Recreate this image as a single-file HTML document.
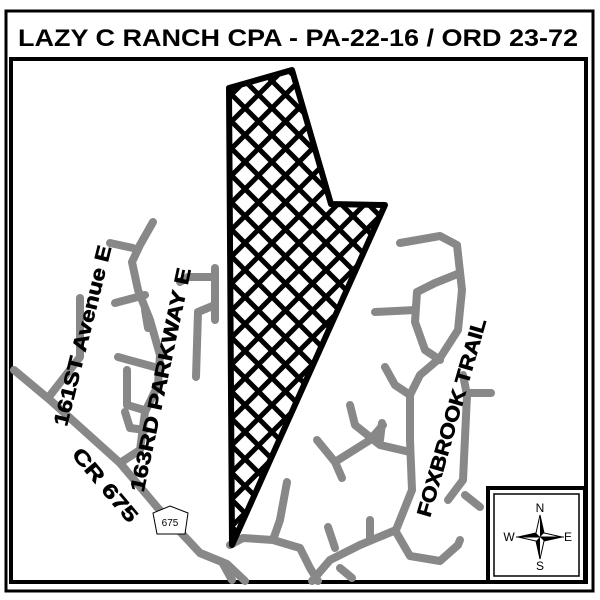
<!DOCTYPE html>
<html><head><style>
html,body{margin:0;padding:0;background:#fff;}
svg{display:block;font-family:"Liberation Sans",Arial,sans-serif;}
</style></head><body>
<svg width="600" height="600" viewBox="0 0 600 600" xmlns="http://www.w3.org/2000/svg">
<defs>
<pattern id="h" patternUnits="userSpaceOnUse" width="27" height="27" x="2" y="0">
<path d="M-3,3 L3,-3 M0,27 L27,0 M24,30 L30,24 M-3,24 L3,30 M0,0 L27,27 M24,-3 L30,3" stroke="#000" stroke-width="5"/>
</pattern>
</defs>
<rect width="600" height="600" fill="#fff"/>
<rect x="6" y="11" width="587" height="580" fill="none" stroke="#000" stroke-width="3"/>
<rect x="11" y="59" width="575" height="523" fill="none" stroke="#000" stroke-width="4"/>
<text x="298" y="46" text-anchor="middle" font-size="24" font-weight="bold" textLength="560" lengthAdjust="spacingAndGlyphs">LAZY C RANCH CPA -  PA-22-16 / ORD 23-72</text>

<g fill="none" stroke="#888" stroke-width="8" stroke-linecap="round" stroke-linejoin="round">
<path d="M14,370 L50,400 L120,463 L157,507 L200,553 L227,564 L245,581"/>
<path d="M48,398 L80,357 L80,298"/>
<path d="M120,463 L140,450 L145,412 L158,385 L160,355 L150,320 L138,290 L132,262 L140,245 L153,222"/>
<path d="M110,243 L133,248"/>
<path d="M115,303 L145,295"/>
<path d="M145,310 L148,328"/>
<path d="M118,357 L158,368"/>
<path d="M127,370 L127,405 L144,410"/>
<path d="M125,412 L130,428 L145,430"/>
<path d="M180,282 L188,277 L215,277"/>
<path d="M215,268 L215,320"/>
<path d="M215,305 L198,312 L196,377"/>
<path d="M400,243 L440,236 L457,245 L462,290 L458,330 L440,358 L420,375 L410,395 L410,440 L412,490 L396,530 L360,545 L330,560 L312,581"/>
<path d="M460,273 L435,283 L417,292 L415,322 L425,350 L440,360"/>
<path d="M375,312 L415,310"/>
<path d="M385,367 L395,385 L410,395"/>
<path d="M463,375 L467,395 L463,480 L448,500"/>
<path d="M465,495 L480,507"/>
<path d="M467,393 L491,393"/>
<path d="M350,405 L355,425 L380,445 L410,452"/>
<path d="M382,423 L380,440"/>
<path d="M317,440 L335,462 L342,478"/>
<path d="M335,462 L370,440 L383,425"/>
<path d="M287,482 L280,520 L273,540 L243,538 L230,545"/>
<path d="M273,540 L300,548 L310,568 L318,581"/>
<path d="M328,527 L335,548"/>
<path d="M370,520 L370,540"/>
<path d="M396,532 L410,556 L440,561 L458,545 L460,540"/>
<path d="M340,568 L352,578"/>
<path d="M200,553 L222,562 L232,580"/>
</g>

<polygon points="229,88 292,70 331,204 385,205 232,545" fill="url(#h)" stroke="#000" stroke-width="6" stroke-linejoin="round"/>

<polygon points="170,506 188,513 185,534 157,534 153,513" fill="#fff" stroke="#000" stroke-width="1"/>
<text x="170" y="526" text-anchor="middle" font-size="10">675</text>

<g font-weight="bold" font-size="20" fill="#000" stroke="#000" stroke-width="0.6">
<text transform="translate(84,336) rotate(-76)" text-anchor="middle" dominant-baseline="middle" textLength="185" lengthAdjust="spacingAndGlyphs">161ST Avenue E</text>
<text transform="translate(162,380) rotate(-78)" text-anchor="middle" dominant-baseline="middle" textLength="228" lengthAdjust="spacingAndGlyphs">163RD PARKWAY E</text>
<text transform="translate(104,486) rotate(50)" text-anchor="middle" dominant-baseline="middle" textLength="90" lengthAdjust="spacingAndGlyphs">CR 675</text>
<text transform="translate(453,418) rotate(-74)" text-anchor="middle" dominant-baseline="middle" textLength="205" lengthAdjust="spacingAndGlyphs">FOXBROOK TRAIL</text>
</g>

<rect x="488" y="488" width="97" height="94" fill="#fff" stroke="#000" stroke-width="4"/>
<rect x="494" y="494" width="85" height="82" fill="none" stroke="#000" stroke-width="1.5"/>
<g transform="translate(540,537)">
<polygon points="0,-22 4,-4 22,0 4,4 0,22 -4,4 -22,0 -4,-4" fill="#fff" stroke="#000" stroke-width="1"/>
<polygon points="0,-22 4,-4 0,0" fill="#000"/>
<polygon points="22,0 4,4 0,0" fill="#000"/>
<polygon points="0,22 -4,4 0,0" fill="#000"/>
<polygon points="-22,0 -4,-4 0,0" fill="#000"/>
<line x1="-24" y1="0" x2="24" y2="0" stroke="#000" stroke-width="1"/>
</g>
<g font-size="12" text-anchor="middle">
<text x="540" y="512">N</text>
<text x="540" y="570">S</text>
<text x="509" y="541">W</text>
<text x="568" y="541">E</text>
</g>
</svg>
</body></html>
